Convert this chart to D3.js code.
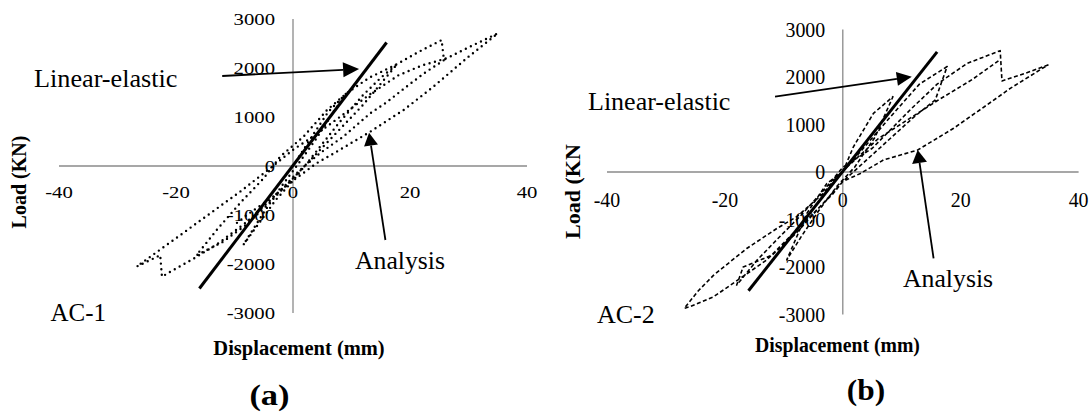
<!DOCTYPE html>
<html>
<head>
<meta charset="utf-8">
<script src="https://cdn.jsdelivr.net/npm/d3@7/dist/d3.min.js"></script>
<style>html,body{margin:0;background:#fff}svg{display:block}</style>
</head>
<body>
<svg id="fig" width="1089" height="416"></svg>
<script>
// Load–displacement hysteresis, AC-1 (dotted) and AC-2 (dashed), with linear-elastic reference line
const xTicks = [-40, -20, 0, 20, 40];
const yTicks = [-3000, -2000, -1000, 0, 1000, 2000, 3000];

const linearA = [[-16, -2500], [16, 2520]];
const linearB = [[-16, -2500], [16, 2530]];

// AC-1 analysis curve (mm, kN)
const analysisA = [
  [0, 0], [3, 560], [6, 1100], [9.1, 1480],
  [7, 1120], [4, 560], [1, 60], [-2, -420], [-5, -950], [-8.5, -1610],
  [-6, -1200], [-3, -700], [0, -300], [4, 300], [8, 900], [12, 1450], [15, 1800], [17.8, 2080],
  [15.5, 1750], [12, 1250], [8, 750], [4, 250], [0, -250], [-4, -750], [-8, -1200], [-12, -1550], [-16.5, -1820],
  [-13, -1300], [-9, -750], [-5, -250], [-2.2, 190], [1.8, 600], [5.8, 1140], [9.1, 1480], [13, 1800], [17.8, 2080], [21.5, 2330], [25.4, 2570],
  [25.8, 2170], [26.3, 2200],
  [22.5, 1900], [19.4, 1620], [16, 1300], [13.2, 1075], [8.6, 600], [4.6, 260], [1.2, -80], [-3, -600], [-8, -1150], [-13, -1600], [-17, -1890], [-21, -2160], [-22.4, -2260],
  [-22.7, -1820], [-24.4, -1920], [-26.7, -2050],
  [-21, -1560], [-15, -1040], [-9, -520], [-3.4, 0], [0, 330], [4, 650], [8, 1000], [13, 1450], [18, 1850], [22, 2050], [26.3, 2200], [30, 2420], [35, 2707],
  [30, 2230], [24, 1620], [19, 1150], [13.2, 700], [8, 330], [4, 54], [0, -300], [-3.4, -626], [-7.9, -1000], [-10, -1200]
];

// AC-2 analysis curve (mm, kN)
const analysisB = [
  [0, 0], [1.8, 530], [5.2, 1235], [8.5, 1585],
  [5.5, 740], [2, 100], [-1, -300], [-4, -800], [-7, -1350], [-9.5, -1850],
  [-6.1, -870], [-2.7, -240], [0, 0], [3, 430], [8, 1150], [13, 1850], [17.7, 2220],
  [15.7, 1520], [12, 1150], [8, 700], [4, 250], [0, -200], [-4, -750], [-8, -1300], [-12, -1750], [-16.9, -2000], [-18, -2380],
  [-14.5, -1850], [-11, -1400], [-7, -900], [-3, -350], [0, 100], [5, 500], [11.4, 1305], [16, 1850], [21.1, 2288], [26.7, 2554],
  [27, 1916], [31, 2080], [34.8, 2253],
  [31.5, 2000], [28.4, 1760], [23.5, 1330], [18.8, 920], [12.7, 463], [6.9, 253], [3, -30], [0, -200], [-1.6, -450], [-5, -870], [-8.4, -1290], [-12.9, -1850], [-17.4, -2240], [-21.9, -2625], [-25.9, -2835], [-26.9, -2870],
  [-24.5, -2500], [-21.9, -2170], [-16.3, -1610], [-11.2, -1190], [-7.8, -940], [-3.3, -450], [-1, -100], [2, 250], [6, 700], [11, 1100], [16, 1500], [22, 1950], [26.5, 2350]
];

// annotation arrows (tail -> head, data units)
const arrowsA = [
  { from: [-12.1, 1837], to: [11.3, 1980], len: 16, half: 7.5 },
  { from: [15.8, -1510], to: [13.0, 680], len: 13, half: 7 }
];
const arrowsB = [
  { from: [-11.5, 1585], to: [11.7, 2006], len: 15, half: 7 },
  { from: [15.4, -1817], to: [12.7, 463], len: 13, half: 7.5 }
];

const SERIF = "'Liberation Serif','Times New Roman',serif";
const svg = d3.select("#fig");

function label(g, str, x, y, o) {
  const rot = o.rotate ? ` rotate(${o.rotate})` : "";
  g.append("text")
    .attr("transform", `translate(${x},${y})${rot} scale(${o.sx || 1},1)`)
    .attr("text-anchor", o.anchor || "start")
    .attr("fill", "#000")
    .style("font", `${o.weight || "normal"} ${o.size}px ${SERIF}`)
    .text(str);
}

function panel(p) {
  const g = svg.append("g");
  const x = d3.scaleLinear().domain([-40, 40]).range(p.xr);
  const y = d3.scaleLinear().domain([-3000, 3000]).range(p.yr);

  // axes (gray, no ticks)
  g.append("line")
    .attr("x1", x(-40)).attr("x2", x(40)).attr("y1", y(0)).attr("y2", y(0))
    .attr("stroke", "#8a8a8a").attr("stroke-width", 1.3);
  g.append("line")
    .attr("x1", x(0)).attr("x2", x(0)).attr("y1", y(3000)).attr("y2", y(-3000))
    .attr("stroke", "#8a8a8a").attr("stroke-width", 1.3);

  xTicks.forEach(v => label(g, String(v), x(v), y(0) + p.xLabDy, { size: p.tick, sx: p.tickSx, anchor: "middle" }));
  yTicks.forEach(v => label(g, String(v), x(0) - p.yLabDx, y(v) + p.yLabDy, { size: p.tick, sx: p.tickSx, anchor: "end" }));

  // analysis curve
  const line = d3.line().x(d => x(d[0])).y(d => y(d[1]));
  g.append("path")
    .attr("d", line(p.curve))
    .attr("fill", "none").attr("stroke", "#000")
    .attr("stroke-width", p.curveW)
    .attr("stroke-linecap", p.cap)
    .attr("stroke-linejoin", "round")
    .attr("stroke-dasharray", p.dash);

  // linear-elastic reference
  g.append("path")
    .attr("d", line(p.linear))
    .attr("fill", "none").attr("stroke", "#000").attr("stroke-width", 3);

  // arrows
  p.arrows.forEach(a => {
    const x1 = x(a.from[0]), y1 = y(a.from[1]), x2 = x(a.to[0]), y2 = y(a.to[1]);
    const ang = Math.atan2(y2 - y1, x2 - x1);
    const bx = x2 - a.len * Math.cos(ang), by = y2 - a.len * Math.sin(ang);
    g.append("line")
      .attr("x1", x1).attr("y1", y1).attr("x2", bx).attr("y2", by)
      .attr("stroke", "#000").attr("stroke-width", 1.8);
    const nx = -Math.sin(ang) * a.half, ny = Math.cos(ang) * a.half;
    g.append("polygon")
      .attr("points", [[x2, y2], [bx + nx, by + ny], [bx - nx, by - ny]].map(q => q.join(",")).join(" "))
      .attr("fill", "#000");
  });

  p.texts.forEach(t => label(g, t.s, t.x, t.y, t));
}

panel({
  xr: [59, 527], yr: [313, 19],
  tick: 17, tickSx: 1.22, xLabDy: 31.7, yLabDx: 18, yLabDy: 5.7,
  curve: analysisA, curveW: 2.4, cap: "round", dash: "0 5.6",
  linear: linearA, arrows: arrowsA,
  texts: [
    { s: "Linear-elastic", x: 34, y: 87, size: 24.5, sx: 1.07 },
    { s: "Analysis", x: 355, y: 269, size: 24.5, sx: 1.05 },
    { s: "AC-1", x: 50.5, y: 321, size: 24.5, sx: 1.02 },
    { s: "Displacement (mm)", x: 299, y: 355, size: 20.5, sx: 1.0, weight: "bold", anchor: "middle" },
    { s: "(a)", x: 269.5, y: 405, size: 30, sx: 1.15, weight: "bold", anchor: "middle" },
    { s: "Load (KN)", x: 25.5, y: 182, size: 20, weight: "bold", anchor: "middle", rotate: -90 }
  ]
});

panel({
  xr: [607, 1078.6], yr: [314.5, 29.5],
  tick: 20.5, tickSx: 0.97, xLabDy: 35, yLabDx: 17.6, yLabDy: 7,
  curve: analysisB, curveW: 1.6, cap: "butt", dash: "4 2.5",
  linear: linearB, arrows: arrowsB,
  texts: [
    { s: "Linear-elastic", x: 588, y: 110, size: 26, sx: 1.0 },
    { s: "Analysis", x: 903, y: 286.7, size: 26, sx: 0.99 },
    { s: "AC-2", x: 597, y: 323, size: 26, sx: 1.0 },
    { s: "Displacement (mm)", x: 837.5, y: 352, size: 21, sx: 0.94, weight: "bold", anchor: "middle" },
    { s: "(b)", x: 866, y: 400, size: 29, sx: 1.08, weight: "bold", anchor: "middle" },
    { s: "Load (KN", x: 580, y: 191.5, size: 22, weight: "bold", anchor: "middle", rotate: -90 }
  ]
});
</script>
</body>
</html>
